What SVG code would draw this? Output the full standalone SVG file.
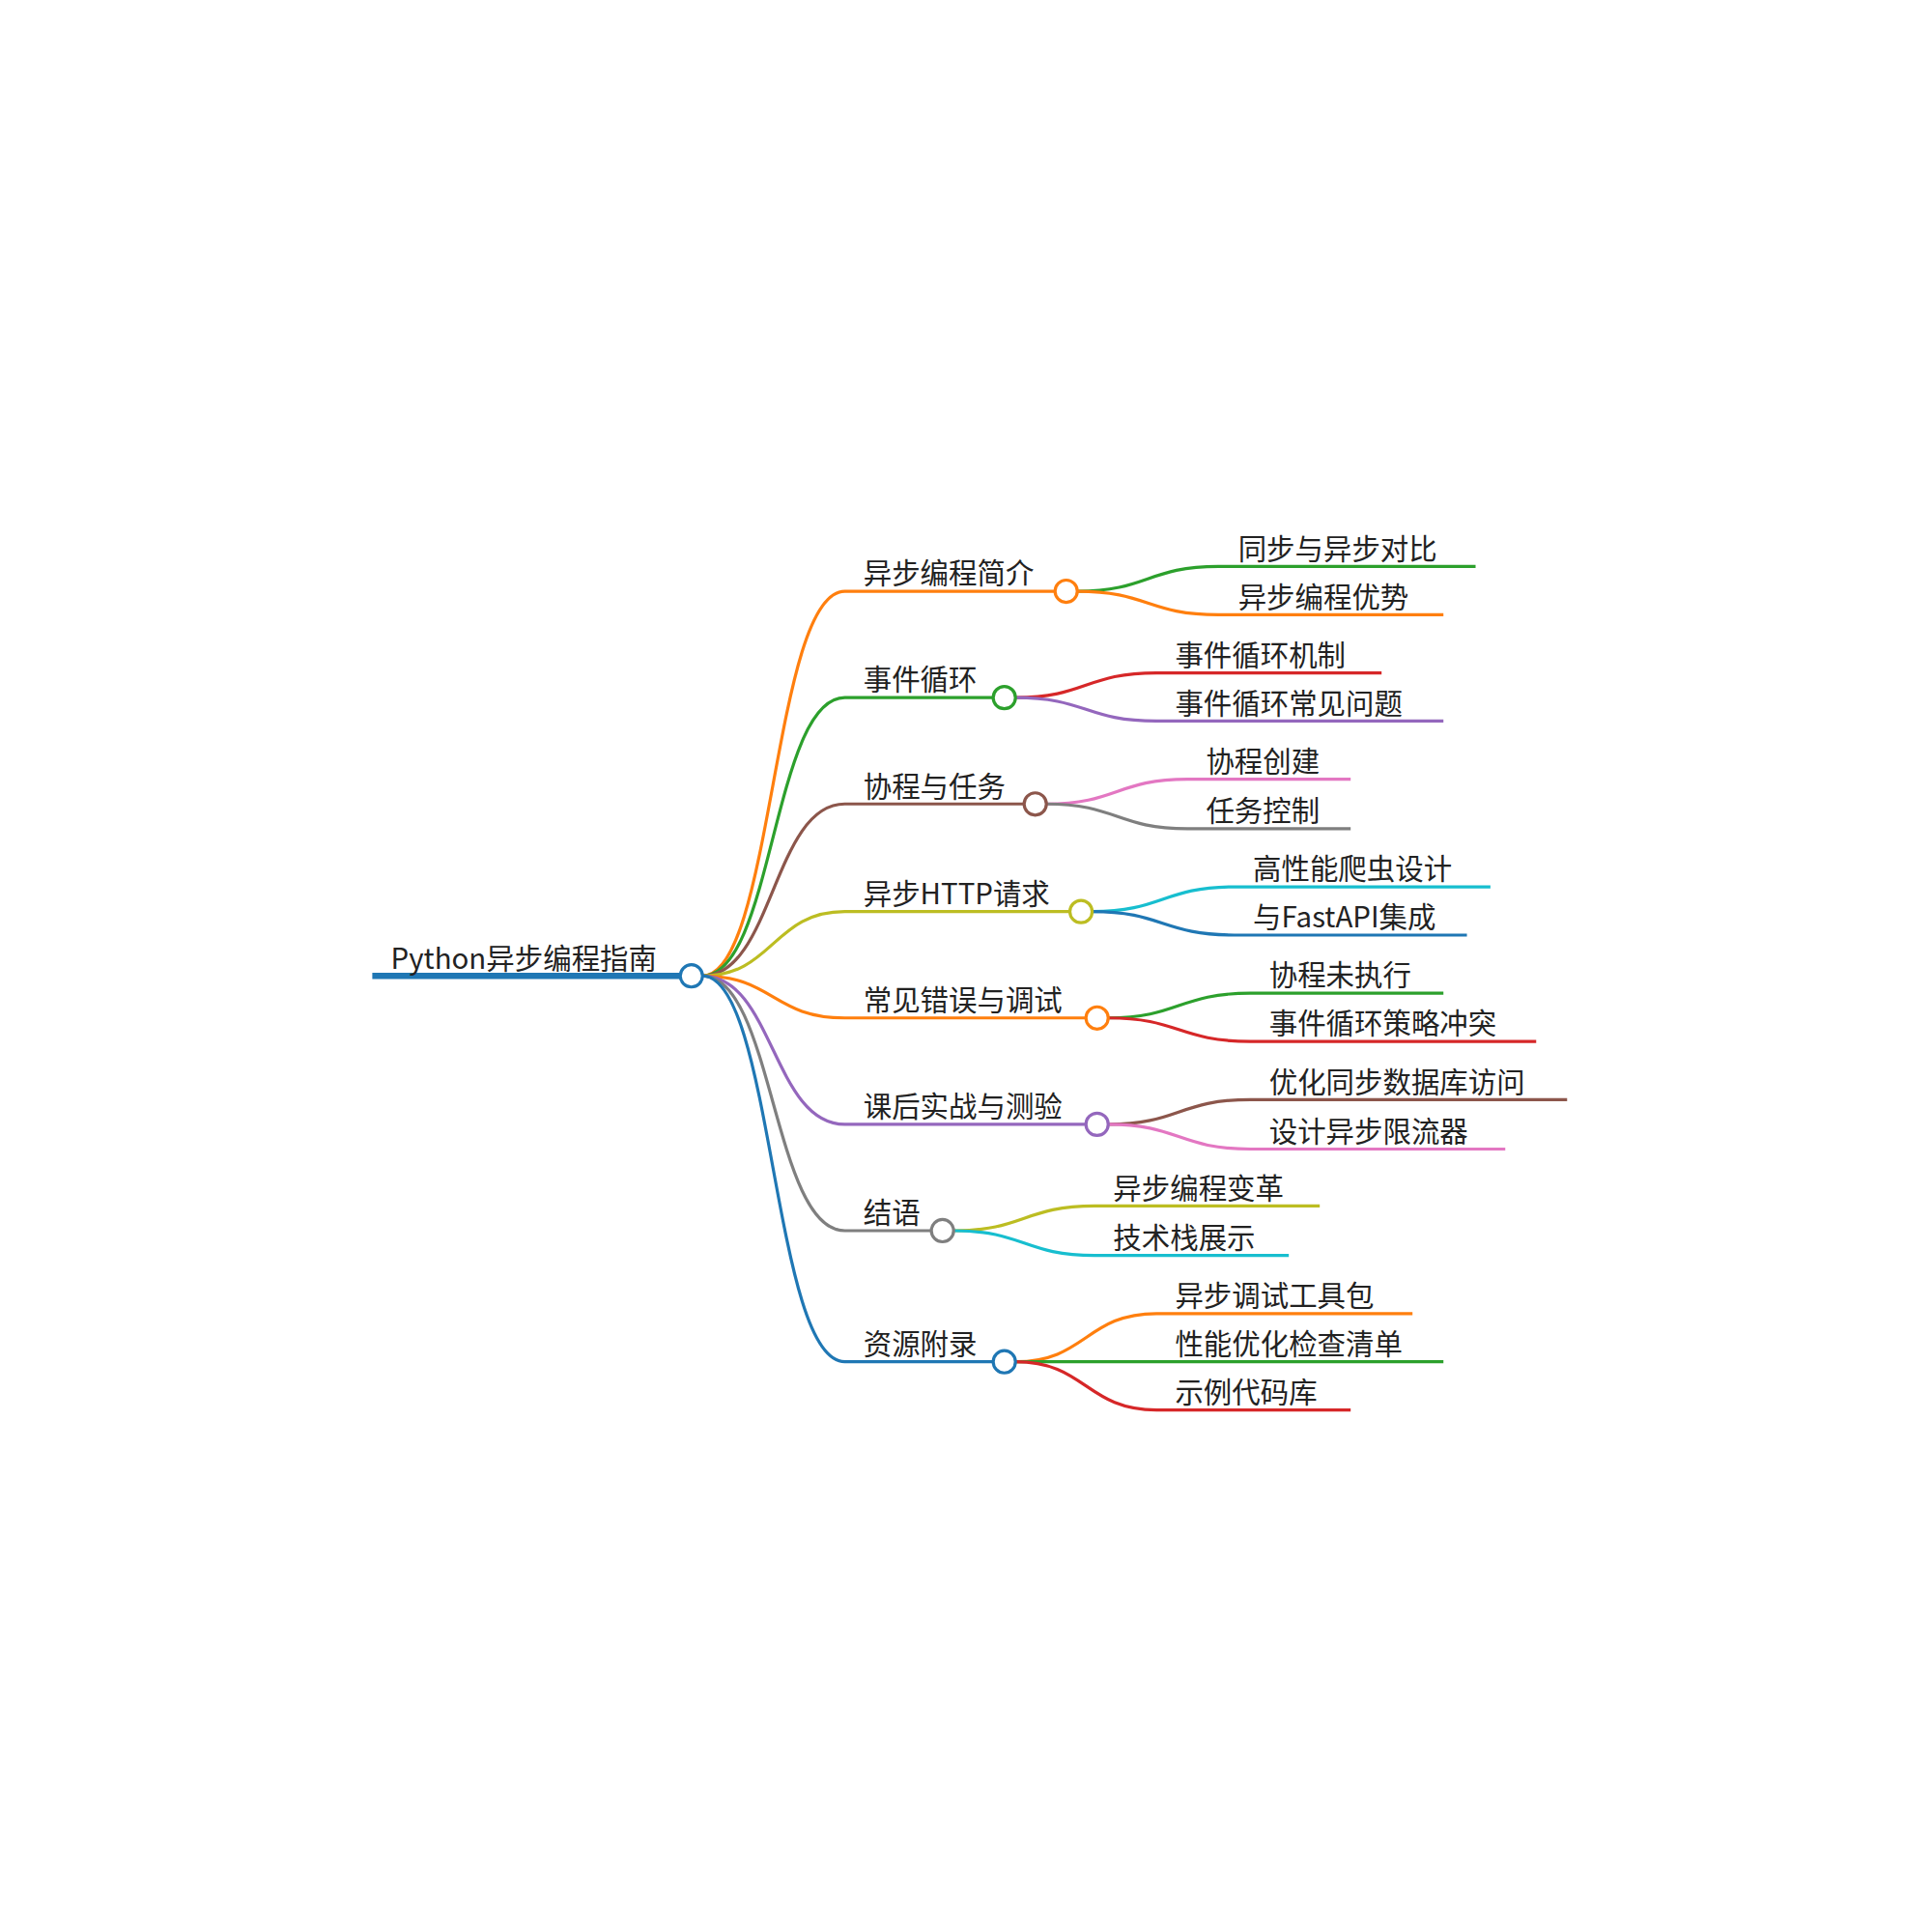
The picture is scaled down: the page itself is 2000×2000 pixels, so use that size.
<svg xmlns="http://www.w3.org/2000/svg" width="2000" height="2000" viewBox="0 0 2000 2000">
<style>
text{font-family:"Noto Sans CJK SC","Liberation Sans",sans-serif;font-size:23px;fill:#222}
.c{fill:none;stroke-width:2.5}
.n{fill:#fff;stroke-width:2.5}
</style>
<rect width="2000" height="2000" fill="#fff"/>
<g transform="scale(1.2804)">
<g id="connectors" fill="none">
<path d="M301,789 H551" stroke="#1f77b4" stroke-width="5"/>
<path class="c" stroke="#ff7f0e" d="M568,789 C625,789 625,478 683,478 H853"/>
<path class="c" stroke="#2ca02c" d="M568,789 C625,789 625,564 683,564 H803"/>
<path class="c" stroke="#8c564b" d="M568,789 C625,789 625,650 683,650 H828"/>
<path class="c" stroke="#bcbd22" d="M568,789 C625,789 625,737 683,737 H865"/>
<path class="c" stroke="#ff7f0e" d="M568,789 C625,789 625,823 683,823 H878"/>
<path class="c" stroke="#9467bd" d="M568,789 C625,789 625,909 683,909 H878"/>
<path class="c" stroke="#7f7f7f" d="M568,789 C625,789 625,995 683,995 H753"/>
<path class="c" stroke="#1f77b4" d="M568,789 C625,789 625,1101 683,1101 H803"/>
<path class="c" stroke="#2ca02c" d="M871,478 C928,478 928,458 985,458 H1193"/>
<path class="c" stroke="#ff7f0e" d="M871,478 C928,478 928,497 985,497 H1167"/>
<path class="c" stroke="#d62728" d="M821,564 C878,564 878,544 935,544 H1117"/>
<path class="c" stroke="#9467bd" d="M821,564 C878,564 878,583 935,583 H1167"/>
<path class="c" stroke="#e377c2" d="M846,650 C903,650 903,630 960,630 H1092"/>
<path class="c" stroke="#7f7f7f" d="M846,650 C903,650 903,670 960,670 H1092"/>
<path class="c" stroke="#17becf" d="M883,737 C940,737 940,717 998,717 H1205"/>
<path class="c" stroke="#1f77b4" d="M883,737 C940,737 940,756 998,756 H1186"/>
<path class="c" stroke="#2ca02c" d="M896,823 C953,823 953,803 1011,803 H1167"/>
<path class="c" stroke="#d62728" d="M896,823 C953,823 953,842 1011,842 H1242"/>
<path class="c" stroke="#8c564b" d="M896,909 C953,909 953,889 1011,889 H1267"/>
<path class="c" stroke="#e377c2" d="M896,909 C953,909 953,929 1011,929 H1217"/>
<path class="c" stroke="#bcbd22" d="M771,995 C828,995 828,975 885,975 H1067"/>
<path class="c" stroke="#17becf" d="M771,995 C828,995 828,1015 885,1015 H1042"/>
<path class="c" stroke="#ff7f0e" d="M821,1101 C878,1101 878,1062 935,1062 H1142"/>
<path class="c" stroke="#2ca02c" d="M821,1101 H1167"/>
<path class="c" stroke="#d62728" d="M821,1101 C878,1101 878,1140 935,1140 H1092"/>
</g>
<g id="root"><text x="316" y="783">Python异步编程指南</text><circle class="n" stroke="#1f77b4" cx="559" cy="789" r="9"/></g>
<g id="n1"><text x="698" y="472">异步编程简介</text><circle class="n" stroke="#ff7f0e" cx="862" cy="478" r="9"/></g>
<g id="n2"><text x="698" y="558">事件循环</text><circle class="n" stroke="#2ca02c" cx="812" cy="564" r="9"/></g>
<g id="n3"><text x="698" y="644">协程与任务</text><circle class="n" stroke="#8c564b" cx="837" cy="650" r="9"/></g>
<g id="n4"><text x="698" y="731">异步HTTP请求</text><circle class="n" stroke="#bcbd22" cx="874" cy="737" r="9"/></g>
<g id="n5"><text x="698" y="817">常见错误与调试</text><circle class="n" stroke="#ff7f0e" cx="887" cy="823" r="9"/></g>
<g id="n6"><text x="698" y="903">课后实战与测验</text><circle class="n" stroke="#9467bd" cx="887" cy="909" r="9"/></g>
<g id="n7"><text x="698" y="989">结语</text><circle class="n" stroke="#7f7f7f" cx="762" cy="995" r="9"/></g>
<g id="n8"><text x="698" y="1095">资源附录</text><circle class="n" stroke="#1f77b4" cx="812" cy="1101" r="9"/></g>
<g id="n1a"><text x="1001" y="452">同步与异步对比</text></g>
<g id="n1b"><text x="1001" y="491">异步编程优势</text></g>
<g id="n2a"><text x="950" y="538">事件循环机制</text></g>
<g id="n2b"><text x="950" y="577">事件循环常见问题</text></g>
<g id="n3a"><text x="975" y="624">协程创建</text></g>
<g id="n3b"><text x="975" y="664">任务控制</text></g>
<g id="n4a"><text x="1013" y="711">高性能爬虫设计</text></g>
<g id="n4b"><text x="1013" y="750">与FastAPI集成</text></g>
<g id="n5a"><text x="1026" y="797">协程未执行</text></g>
<g id="n5b"><text x="1026" y="836">事件循环策略冲突</text></g>
<g id="n6a"><text x="1026" y="883">优化同步数据库访问</text></g>
<g id="n6b"><text x="1026" y="923">设计异步限流器</text></g>
<g id="n7a"><text x="900" y="969">异步编程变革</text></g>
<g id="n7b"><text x="900" y="1009">技术栈展示</text></g>
<g id="n8a"><text x="950" y="1056">异步调试工具包</text></g>
<g id="n8b"><text x="950" y="1095">性能优化检查清单</text></g>
<g id="n8c"><text x="950" y="1134">示例代码库</text></g>
</g>
</svg>
